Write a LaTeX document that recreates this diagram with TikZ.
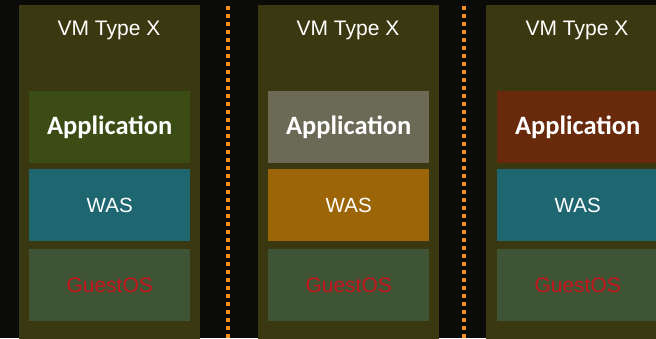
\documentclass[tikz,border=0pt]{standalone}
\usepackage{fontspec}
\setmainfont{Liberation Sans}
\newfontfamily\appfont{Carlito}
\definecolor{bgc}{HTML}{0B0B0A}
\definecolor{vmc}{HTML}{3A3810}
\definecolor{appgreen}{HTML}{3B4C14}
\definecolor{appgrey}{HTML}{6A6A57}
\definecolor{apprust}{HTML}{682A0B}
\definecolor{wasteal}{HTML}{1E6670}
\definecolor{wasorange}{HTML}{9C6508}
\definecolor{osgreen}{HTML}{3E5435}
\definecolor{osred}{HTML}{C8161E}
\definecolor{dotorange}{HTML}{F5901A}
\tikzset{
  vmbox/.style={fill=vmc, draw=none, minimum width=181pt, minimum height=345pt, anchor=north west, inner sep=0pt},
  layer/.style={draw=none, minimum width=161pt, minimum height=72pt, anchor=north west, inner sep=0pt},
  apptext/.style={text=white, font=\appfont\bfseries\fontsize{26.5}{30}\selectfont},
  wastext/.style={text=white, font=\fontsize{20.5}{24}\selectfont},
  ostext/.style={text=osred, font=\fontsize{21}{24}\selectfont},
  vmtitle/.style={text=white, font=\fontsize{21}{24}\selectfont},
  sep/.style={draw=dotorange, line width=4pt, dash pattern=on 4pt off 4pt}
}
\begin{document}
\begin{tikzpicture}[x=1pt,y=-1pt]
\useasboundingbox (0,0) rectangle (656,338);
\fill[bgc] (0,0) rectangle (656,338);
\begin{scope}
\clip (0,0) rectangle (656,338);
% VM 1
\node[vmbox] (vm1) at (19,5) {};
\node[vmtitle] (t1) at (109,30) {VM Type X};
\node[layer, fill=appgreen] (a1) at (29,91) {};
\node[apptext] at (a1.center) {Application};
\node[layer, fill=wasteal] (w1) at (29,169) {};
\node[wastext] at (w1.center) {WAS};
\node[layer, fill=osgreen] (o1) at (29,249) {};
\node[ostext] at (o1.center) {GuestOS};
% VM 2
\node[vmbox] (vm2) at (258,5) {};
\node[vmtitle] (t2) at (348,30) {VM Type X};
\node[layer, fill=appgrey] (a2) at (268,91) {};
\node[apptext] at (a2.center) {Application};
\node[layer, fill=wasorange] (w2) at (268,169) {};
\node[wastext] at (w2.center) {WAS};
\node[layer, fill=osgreen] (o2) at (268,249) {};
\node[ostext] at (o2.center) {GuestOS};
% VM 3
\node[vmbox] (vm3) at (486,5) {};
\node[vmtitle] (t3) at (577,30) {VM Type X};
\node[layer, fill=apprust] (a3) at (497,91) {};
\node[apptext] at (a3.center) {Application};
\node[layer, fill=wasteal] (w3) at (497,169) {};
\node[wastext] at (w3.center) {WAS};
\node[layer, fill=osgreen] (o3) at (497,249) {};
\node[ostext] at (o3.center) {GuestOS};
% separators
\coordinate (s1a) at (228,6);
\coordinate (s1b) at (228,340);
\coordinate (s2a) at (464,6);
\coordinate (s2b) at (464,340);
\draw[sep] (s1a) -- (s1b);
\draw[sep] (s2a) -- (s2b);
\end{scope}
\end{tikzpicture}
\end{document}
